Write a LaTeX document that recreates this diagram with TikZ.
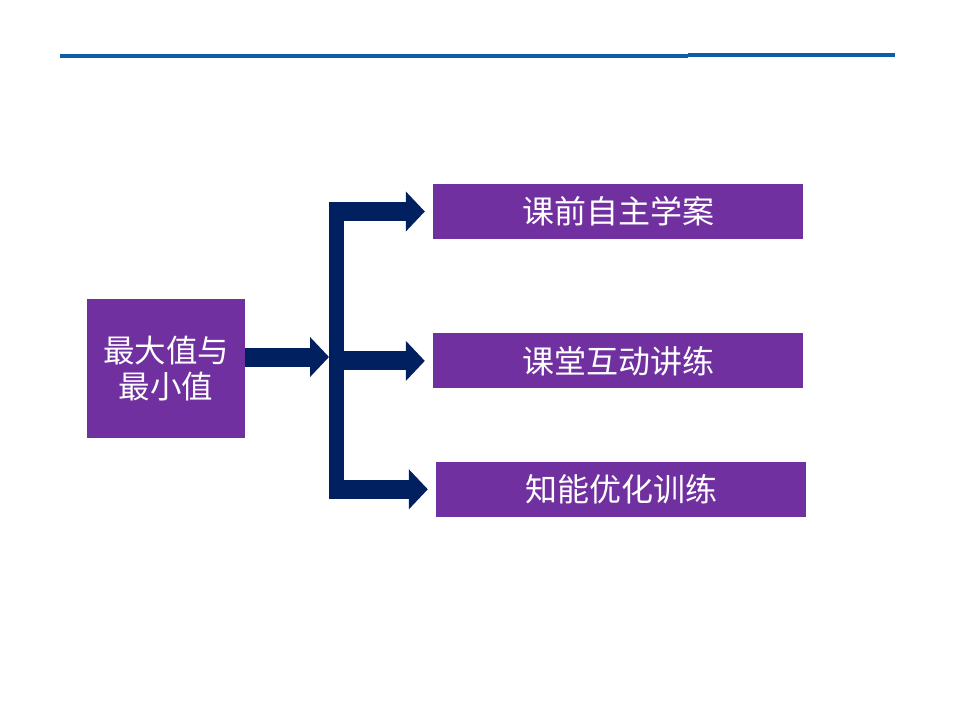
\documentclass[tikz,border=0pt]{standalone}
\usepackage{fontspec}
\setmainfont{Noto Sans CJK SC}
\usetikzlibrary{arrows.meta, positioning, calc}
\definecolor{topicPurple}{RGB}{112,48,160}
\definecolor{arrowNavy}{RGB}{0,32,96}
\definecolor{ruleBlue}{RGB}{11,94,166}

\begin{document}
\begin{tikzpicture}[
    x=1pt, y=-1pt,
    topicbox/.style={rectangle, fill=topicPurple, text=white, inner sep=0pt, minimum width=158pt, minimum height=139pt, align=center, font=\fontsize{31.5}{36}\selectfont},
    partbox/.style={rectangle, fill=topicPurple, text=white, inner sep=0pt, minimum width=370pt, minimum height=55pt, font=\fontsize{32}{36}\selectfont},
    blockarrow/.style={-{Triangle[length=19pt, width=39pt]}, line width=19pt, draw=arrowNavy},
    forkbar/.style={line width=15pt, draw=arrowNavy},
    headrule/.style={line width=4pt, draw=ruleBlue}
]
\useasboundingbox (0,0) rectangle (960,720);

% Title rule
\draw[headrule] (60,56) -- (688,56);
\draw[headrule] (688,55) -- (895,55);

% Topic and parts
\node[topicbox] (topic) at (166,368.5) {最大值与\\最小值};
\node[partbox] (plan) at (618,211.5) {课前自主学案};
\node[partbox, below=94pt of plan] (drill) {课堂互动讲练};
\node[partbox, below=73pt of drill, xshift=3pt] (train) {知能优化训练};

% Fork
\coordinate (fork) at (329,357);
\draw[blockarrow] (topic.east |- fork) -- (fork);
\draw[forkbar] ($(fork |- plan.west)+(7.5,-9.5)$) -- ($(fork |- train.west)+(7.5,9.5)$);
\draw[blockarrow] (fork |- plan.west) -- ([xshift=-8pt]plan.west);
\draw[blockarrow] (fork |- drill.west) -- ([xshift=-8pt]drill.west);
\draw[blockarrow] (fork |- train.west) -- ([xshift=-8pt]train.west);
\end{tikzpicture}
\end{document}
